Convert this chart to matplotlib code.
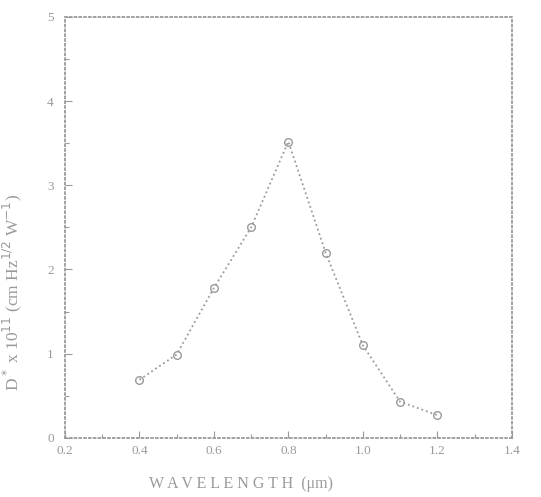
import numpy as np
import matplotlib
matplotlib.use('Agg')
import matplotlib.pyplot as plt
from matplotlib.ticker import MultipleLocator, FormatStrFormatter

# wavelength (um) and detectivity D* (x 10^11 cm Hz^1/2 W^-1)
wavelength = [0.4, 0.5, 0.6, 0.7, 0.8, 0.9, 1.0, 1.1, 1.2]
dstar = [0.69, 0.99, 1.78, 2.50, 3.52, 2.20, 1.10, 0.43, 0.27]

grey = '#9a9a9a'
plt.rcParams['font.family'] = ['Liberation Serif', 'DejaVu Serif']

fig = plt.figure(figsize=(5.41, 4.97), dpi=100)
ax = fig.add_axes([0.120, 0.119, 0.826, 0.847])

ax.plot(wavelength, dstar, linestyle=':', color=grey, linewidth=1.3,
        marker='o', markersize=5.5, markerfacecolor='none', markeredgecolor=grey,
        markeredgewidth=1.0)

ax.set_xlim(0.2, 1.4)
ax.set_ylim(0, 5)
ax.xaxis.set_major_locator(MultipleLocator(0.2))
ax.xaxis.set_minor_locator(MultipleLocator(0.1))
ax.yaxis.set_major_locator(MultipleLocator(1))
ax.yaxis.set_minor_locator(MultipleLocator(0.5))
ax.xaxis.set_major_formatter(FormatStrFormatter('%.1f'))
ax.yaxis.set_major_formatter(FormatStrFormatter('%d'))

ax.tick_params(which='both', direction='in', color=grey, labelcolor=grey,
               labelsize=9.5, width=0.8)
ax.tick_params(which='major', length=5)
ax.tick_params(which='minor', length=3)
ax.tick_params(axis='y', pad=8)
ax.tick_params(axis='x', pad=5)
for s in ax.spines.values():
    s.set_linestyle(':')
    s.set_color(grey)
    s.set_linewidth(1.3)

ax.set_xlabel('W A V E L E N G T H  (\u03bcm)', color=grey, fontsize=11.5)
ax.set_ylabel(r'D$^*$ x 10$^{11}$ (cm Hz$^{1/2}$ W$^{-1}$)', color=grey, fontsize=12.5)
ax.xaxis.set_label_coords(0.394, -0.09)
ax.yaxis.set_label_coords(-0.092, 0.346)

fig.savefig('out.png', dpi=100)
